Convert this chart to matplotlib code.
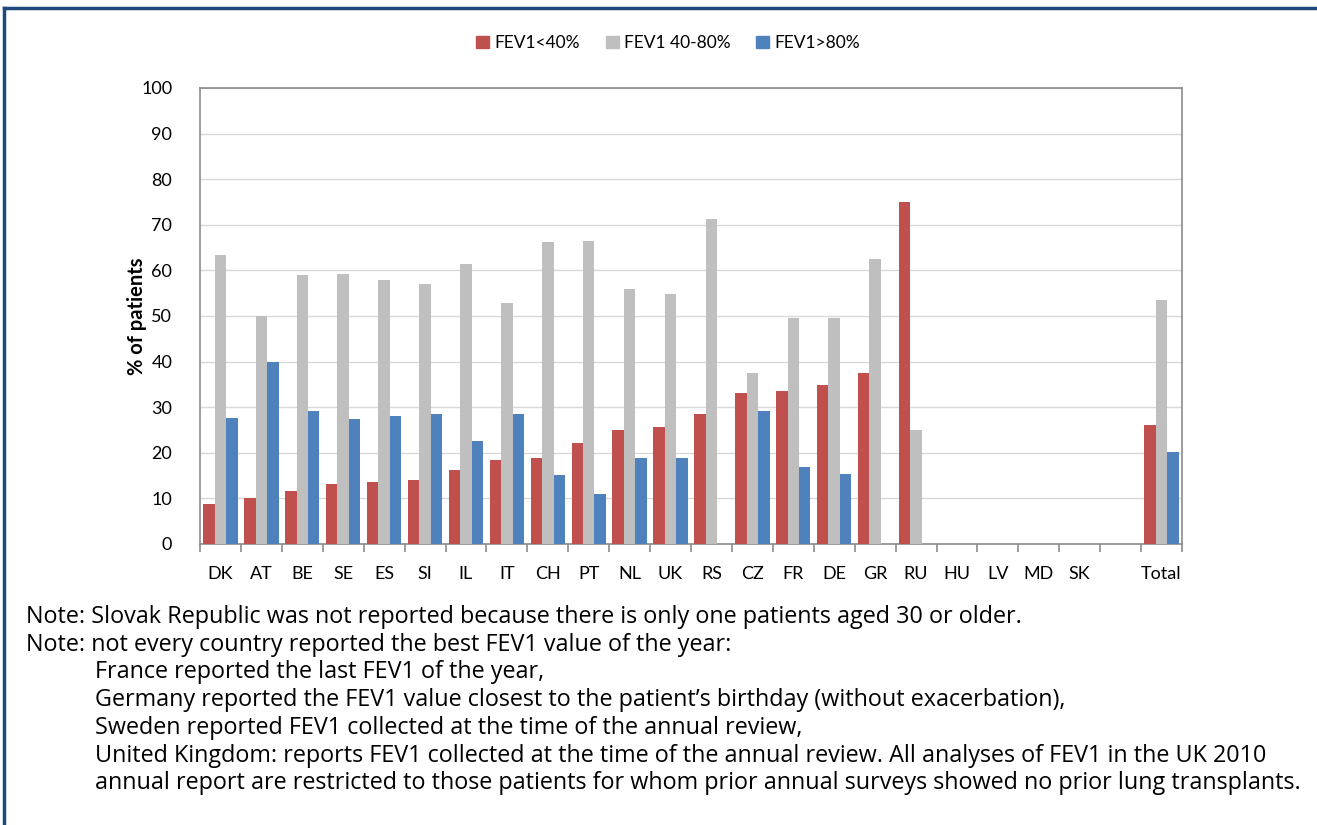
import numpy as np
import matplotlib.pyplot as plt
from matplotlib.lines import Line2D

plt.rcParams['font.family'] = ['Lato', 'DejaVu Sans']

# data (% of patients aged 30 or older)
countries = ["DK", "AT", "BE", "SE", "ES", "SI", "IL", "IT", "CH", "PT", "NL", "UK",
             "RS", "CZ", "FR", "DE", "GR", "RU", "HU", "LV", "MD", "SK", "", "Total"]
fev_low = [8.7, 10.0, 11.7, 13.1, 13.7, 14.1, 16.2, 18.5, 18.9, 22.2, 25.0, 25.6,
           28.4, 33.2, 33.6, 34.9, 37.6, 75.0, np.nan, np.nan, np.nan, np.nan, np.nan, 26.0]
fev_mid = [63.4, 49.9, 59.0, 59.3, 58.0, 57.0, 61.4, 52.9, 66.2, 66.5, 55.9, 54.9,
           71.3, 37.6, 49.5, 49.5, 62.4, 25.0, np.nan, np.nan, np.nan, np.nan, np.nan, 53.5]
fev_high = [27.7, 39.9, 29.1, 27.4, 28.0, 28.4, 22.6, 28.4, 15.1, 11.0, 18.9, 18.9,
            np.nan, 29.1, 16.8, 15.4, np.nan, np.nan, np.nan, np.nan, np.nan, np.nan, np.nan, 20.2]
series_names = ["FEV1<40%", "FEV1 40-80%", "FEV1>80%"]
colors = ["#C0504D", "#BFBFBF", "#4F81BD"]

notes = [
    "Note: Slovak Republic was not reported because there is only one patients aged 30 or older.",
    "Note: not every country reported the best FEV1 value of the year:",
]
sub_notes = [
    "France reported the last FEV1 of the year,",
    "Germany reported the FEV1 value closest to the patient\u2019s birthday (without exacerbation),",
    "Sweden reported FEV1 collected at the time of the annual review,",
    "United Kingdom: reports FEV1 collected at the time of the annual review. All analyses of FEV1 in the UK 2010",
    "annual report are restricted to those patients for whom prior annual surveys showed no prior lung transplants.",
]

fig = plt.figure(figsize=(13.17, 8.25), dpi=100)
ax = fig.add_axes([200 / 1317, 1 - 544 / 825, 982 / 1317, 456 / 825])

x = np.arange(len(countries)) + 0.5
w = 0.28
for i, (vals, name) in enumerate(zip([fev_low, fev_mid, fev_high], series_names)):
    ax.bar(x + (i - 1) * w, vals, width=w, color=colors[i], label=name, zorder=3)

# axes styling, excel look
ax.set_xlim(0, len(countries))
ax.set_ylim(0, 100)
ax.set_yticks(range(0, 101, 10))
ax.grid(axis="y", color="#D9D9D9", lw=1, zorder=0)
for s in ax.spines.values():
    s.set_color("#8C8C8C")
    s.set_linewidth(1.2)
ax.tick_params(axis="y", length=0, labelsize=13, pad=20)
ax.set_xticks(np.arange(len(countries) + 1))
ax.set_xticklabels([])
ax.tick_params(axis="x", which="major", length=6, color="#8C8C8C", width=1.2)
ax.set_xticks(x, minor=True)
ax.set_xticklabels(countries, minor=True)
ax.tick_params(axis="x", which="minor", length=0, labelsize=13, pad=16)
ax.set_ylabel("% of patients", fontsize=14.5, fontweight="bold")
ax.yaxis.set_label_coords(-0.054, 0.5)

# legend at top
handles = [plt.Rectangle((0, 0), 1, 1, color=c) for c in colors]
fig.legend(handles, series_names, loc="center", bbox_to_anchor=(668 / 1317, 1 - 43 / 825),
           ncol=3, frameon=False, fontsize=12.5, handlelength=0.75, handleheight=0.75,
           handletextpad=0.3, columnspacing=1.5)

# notes below the chart
y0 = 617
for k, t in enumerate(notes):
    fig.text(26 / 1317, 1 - (y0 + k * 27.7) / 825, t, fontsize=16.8, va="center", ha="left",
             family="Open Sans")
for k, t in enumerate(sub_notes):
    fig.text(95 / 1317, 1 - (y0 + (k + 2) * 27.7) / 825, t, fontsize=16.8, va="center", ha="left",
             family="Open Sans")

# dark blue frame on top and left
fig.add_artist(Line2D([4 / 1317, 1], [1 - 8 / 825, 1 - 8 / 825], color="#1F497D", lw=2.5,
                      transform=fig.transFigure))
fig.add_artist(Line2D([4 / 1317, 4 / 1317], [0, 1 - 8 / 825], color="#1F497D", lw=2.5,
                      transform=fig.transFigure))

plt.savefig("out.png", dpi=100)
